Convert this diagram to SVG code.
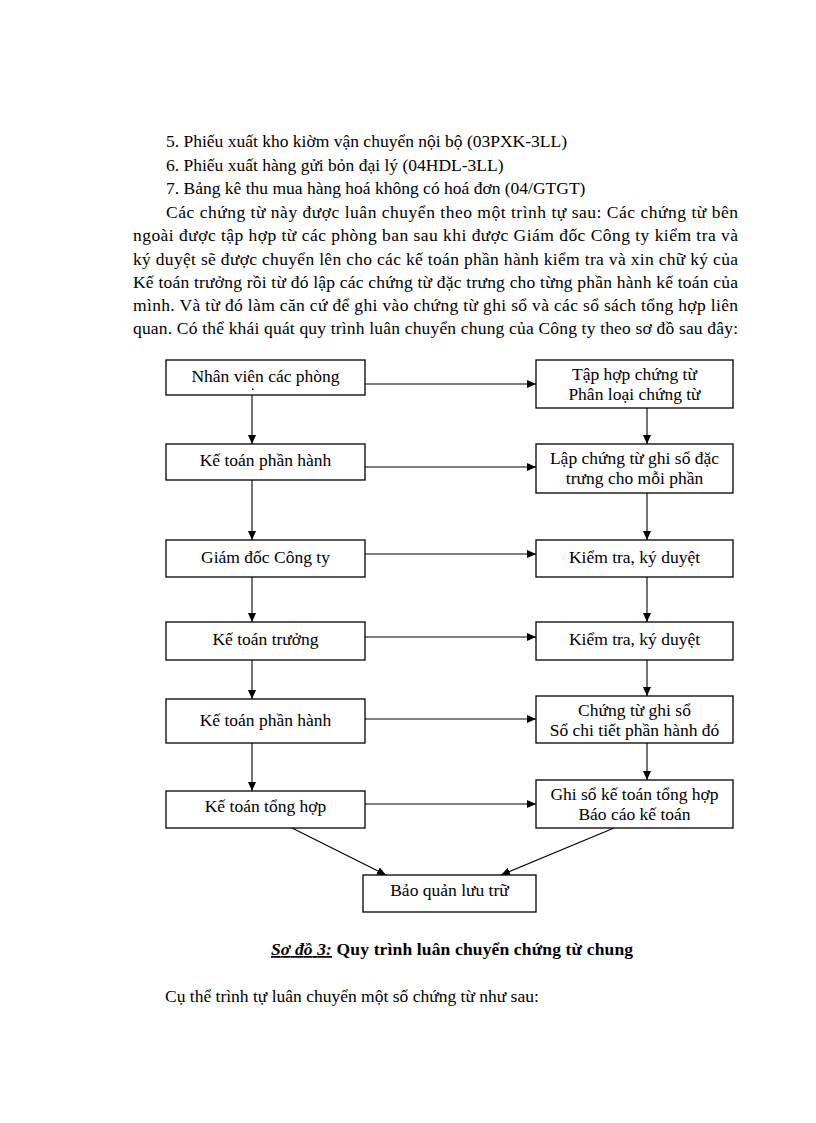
<svg xmlns="http://www.w3.org/2000/svg" width="816" height="1123" viewBox="0 0 816 1123">
<style>
  .t { font-family: "Liberation Serif", "Times New Roman", serif; font-size: 17.5px; fill: #000; }
  .c { text-anchor: middle; }
  .box { fill: #fff; stroke: #000; stroke-width: 1.3; }
  .ln { stroke: #000; stroke-width: 1.1; fill: none; marker-end: url(#ah); }
  .cap { font-family: "Liberation Serif", "Times New Roman", serif; font-size: 17.5px; font-weight: bold; fill: #000; }
</style>
<defs>
  <marker id="ah" markerUnits="userSpaceOnUse" markerWidth="10" markerHeight="8" refX="9" refY="4" orient="auto">
    <path d="M0,0 L9,4 L0,8 Z" fill="#000"/>
  </marker>
</defs>
<rect width="816" height="1123" fill="#fff"/>

<g id="body-text">
  <text class="t" x="166" y="147">5. Phiếu xuất kho kiờm vận  chuyển nội bộ (03PXK-3LL)</text>
  <text class="t" x="166" y="171">6. Phiếu xuất hàng gửi bỏn đại lý (04HDL-3LL)</text>
  <text class="t" x="166" y="194">7. Bảng kê thu mua hàng hoá không có hoá đơn (04/GTGT)</text>
  <text class="t" x="166" y="218" textLength="572" lengthAdjust="spacing">Các chứng từ này được luân chuyển theo một trình tự sau: Các chứng từ bên</text>
  <text class="t" x="133" y="241" textLength="605" lengthAdjust="spacing">ngoài được tập hợp từ các phòng ban sau khi được Giám đốc Công ty kiểm tra và</text>
  <text class="t" x="133" y="265" textLength="605" lengthAdjust="spacing">ký duyệt sẽ được chuyển lên cho các kế toán phần hành kiểm tra và xin chữ ký của</text>
  <text class="t" x="133" y="288" textLength="605" lengthAdjust="spacing">Kế toán trưởng rồi từ đó lập các chứng từ đặc trưng cho từng phần hành kế toán của</text>
  <text class="t" x="133" y="311" textLength="605" lengthAdjust="spacing">mình. Và từ đó làm căn cứ để ghi vào chứng từ ghi sổ và các sổ sách tổng hợp liên</text>
  <text class="t" x="133" y="334" textLength="605" lengthAdjust="spacing">quan. Có thể khái quát quy trình luân chuyển chung của Công ty theo sơ đồ sau đây:</text>
</g>

<g id="connectors">
  <line class="ln" x1="252" y1="395" x2="252" y2="444"/>
  <line class="ln" x1="252" y1="480" x2="252" y2="540"/>
  <line class="ln" x1="252" y1="577" x2="252" y2="622"/>
  <line class="ln" x1="252" y1="660" x2="252" y2="699"/>
  <line class="ln" x1="252" y1="743" x2="252" y2="791"/>
  <line class="ln" x1="647" y1="408" x2="647" y2="444"/>
  <line class="ln" x1="647" y1="493" x2="647" y2="540"/>
  <line class="ln" x1="647" y1="577" x2="647" y2="622"/>
  <line class="ln" x1="647" y1="660" x2="647" y2="696"/>
  <line class="ln" x1="647" y1="743" x2="647" y2="780"/>
  <line class="ln" x1="365" y1="384" x2="536" y2="384"/>
  <line class="ln" x1="365" y1="467" x2="536" y2="467"/>
  <line class="ln" x1="365" y1="554" x2="536" y2="554"/>
  <line class="ln" x1="365" y1="637" x2="536" y2="637"/>
  <line class="ln" x1="365" y1="719" x2="536" y2="719"/>
  <line class="ln" x1="365" y1="804" x2="536" y2="804"/>
  <line class="ln" x1="292" y1="828" x2="386" y2="875"/>
  <line class="ln" x1="614" y1="828" x2="501" y2="875"/>
</g>

<g id="n-nhanvien">
  <rect class="box" x="166" y="360" width="199" height="35"/>
  <text class="t c" x="265.5" y="382">Nhân viên các phòng</text>
  <rect x="252" y="388.5" width="1.5" height="1.5" fill="#000"/>
</g>
<g id="n-ketoanphanhanh1">
  <rect class="box" x="166" y="444" width="199" height="36"/>
  <text class="t c" x="265.5" y="466">Kế toán phần hành</text>
</g>
<g id="n-giamdoc">
  <rect class="box" x="166" y="540" width="199" height="37"/>
  <text class="t c" x="265.5" y="563">Giám đốc Công ty</text>
</g>
<g id="n-ketoantruong">
  <rect class="box" x="166" y="622" width="199" height="38"/>
  <text class="t c" x="265.5" y="645">Kế toán trưởng</text>
</g>
<g id="n-ketoanphanhanh2">
  <rect class="box" x="166" y="699" width="199" height="44"/>
  <text class="t c" x="265.5" y="726">Kế toán phần hành</text>
</g>
<g id="n-ketoantonghop">
  <rect class="box" x="166" y="791" width="199" height="37"/>
  <text class="t c" x="265.5" y="812">Kế toán tổng hợp</text>
</g>

<g id="n-taphop">
  <rect class="box" x="536" y="360" width="197" height="48"/>
  <text class="t c" x="634.5" y="380">Tập hợp chứng từ</text>
  <text class="t c" x="634.5" y="400">Phân loại chứng từ</text>
</g>
<g id="n-lapchungtu">
  <rect class="box" x="536" y="444" width="197" height="49"/>
  <text class="t c" x="634.5" y="464">Lập chứng từ ghi sổ đặc</text>
  <text class="t c" x="634.5" y="484">trưng cho mỗi phần</text>
</g>
<g id="n-kiemtra1">
  <rect class="box" x="536" y="540" width="197" height="37"/>
  <text class="t c" x="634.5" y="563">Kiểm tra, ký duyệt</text>
</g>
<g id="n-kiemtra2">
  <rect class="box" x="536" y="622" width="197" height="38"/>
  <text class="t c" x="634.5" y="645">Kiểm tra, ký duyệt</text>
</g>
<g id="n-chungtughiso">
  <rect class="box" x="536" y="696" width="197" height="47"/>
  <text class="t c" x="634.5" y="716">Chứng từ ghi sổ</text>
  <text class="t c" x="634.5" y="736">Sổ chi tiết phần hành đó</text>
</g>
<g id="n-ghiso">
  <rect class="box" x="536" y="780" width="197" height="48"/>
  <text class="t c" x="634.5" y="800">Ghi sổ kế toán tổng hợp</text>
  <text class="t c" x="634.5" y="820">Báo cáo kế toán</text>
</g>

<g id="n-baoquan">
  <rect class="box" x="363" y="875" width="173" height="37"/>
  <text class="t c" x="449.5" y="896">Bảo quản lưu trữ</text>
</g>

<g id="caption">
  <text class="cap" x="271" y="955" textLength="362" lengthAdjust="spacing"><tspan font-style="italic" text-decoration="underline">Sơ đồ 3:</tspan> Quy trình luân chuyển chứng từ chung</text>
</g>
<g id="footer-text">
  <text class="t" x="165" y="1002">Cụ thể trình tự luân chuyển một số chứng từ như sau:</text>
</g>
</svg>
